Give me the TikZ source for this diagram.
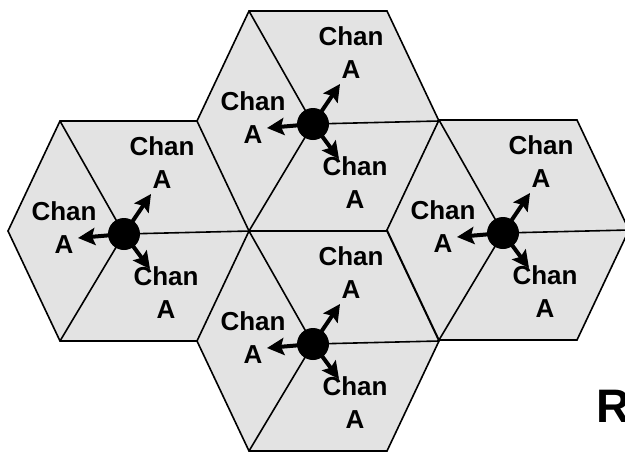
\documentclass[tikz,border=0pt]{standalone}
\usepackage{fontspec}
\setmainfont{Liberation Sans}
\usetikzlibrary{arrows.meta}

\tikzset{
  cell/.style={draw=black,line width=1.6pt,fill=black!11,line join=miter},
  sector/.style={draw=black,line width=1.6pt},
  tower/.style={circle,fill=black,inner sep=0pt,minimum size=32pt},
  beam/.style={line width=4pt,-{Stealth[length=17pt,width=17pt,inset=3pt]}},
  chan/.style={font=\bfseries\fontsize{26}{33}\selectfont,align=center,inner sep=0pt}
}

\begin{document}
\begin{tikzpicture}[x=1pt,y=-1pt]
	\useasboundingbox (0,0) rectangle (625,451);
	\clip (0,0) rectangle (625,451);

	% four cells: name / centre of the hexagon
	\foreach \c/\cx/\cy in {west/129/231, north/318/121, south/318/341, east/508/230}{
	    \coordinate (\c-l)  at (\cx-121,\cy);
	    \coordinate (\c-ul) at (\cx-69,\cy-110);
	    \coordinate (\c-ur) at (\cx+69,\cy-110);
	    \coordinate (\c-r)  at (\cx+121,\cy);
	    \coordinate (\c-lr) at (\cx+69,\cy+110);
	    \coordinate (\c-ll) at (\cx-69,\cy+110);
	    \draw [cell] (\c-l) -- (\c-ul) -- (\c-ur) -- (\c-r) -- (\c-lr) -- (\c-ll) -- cycle;

	    % the tower and its three sectors
	    \coordinate (\c-o) at (\cx-5,\cy+3);
	    \draw [sector] (\c-o) -- (\c-ul);
	    \draw [sector] (\c-o) -- (\c-ll);
	    \draw [sector] (\c-o) -- (\c-r);
	    \node (\c-bs) [tower] at (\c-o) {};

	    \coordinate (\c-tipn) at (\cx+22,\cy-37);
	    \coordinate (\c-tipw) at (\cx-51,\cy+7);
	    \coordinate (\c-tips) at (\cx+21,\cy+38);
	    \draw [beam] (\c-bs.center) -- (\c-tipn);
	    \draw [beam] (\c-bs.center) -- (\c-tipw);
	    \draw [beam] (\c-bs.center) -- (\c-tips);

	    \node (\c-chn) [chan] at (\cx+33,\cy-68) {Chan\\A};
	    \node (\c-chw) [chan] at (\cx-65,\cy-3)  {Chan\\A};
	    \node (\c-chs) [chan] at (\cx+37,\cy+62) {Chan\\A};
	}

	\node (reuse) [anchor=base west,inner sep=0pt,font=\bfseries\fontsize{47}{50}\selectfont] at (596.5,422) {R};

\end{tikzpicture}
\end{document}
